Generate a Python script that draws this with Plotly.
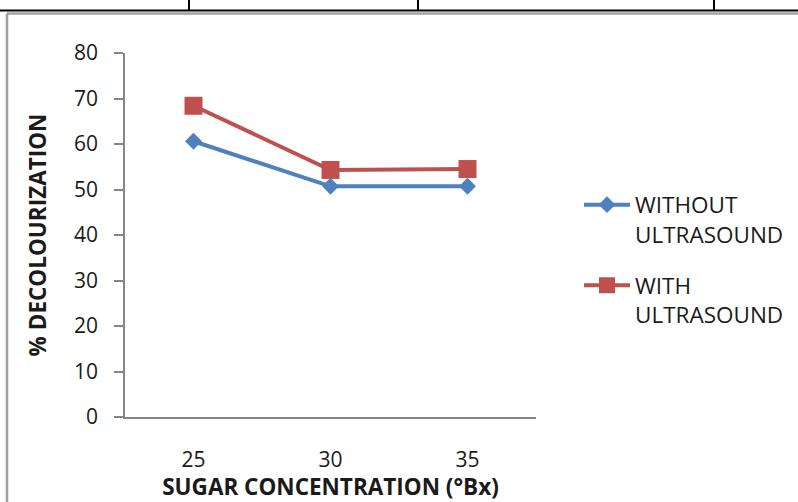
import plotly.graph_objects as go

# Sugar concentration (°Bx) and decolourization results
sugar_conc = ["25", "30", "35"]
without_us = [60.6, 50.7, 50.7]
with_us = [68.4, 54.3, 54.5]
y_ticks = [0, 10, 20, 30, 40, 50, 60, 70, 80]

W, H = 798, 502
L, R, T, B = 125, 262, 53, 85
pw, ph = W - L - R, H - T - B


def px(x):
    return (x - L) / pw


def py(y):
    return (H - B - y) / ph


fig = go.Figure()
fig.add_trace(go.Scatter(
    x=sugar_conc, y=without_us, mode="lines+markers",
    name="WITHOUT<br>ULTRASOUND", legendgroup="a",
    line=dict(color="#4F81BD", width=4),
    marker=dict(symbol="diamond", size=13, color="#4F81BD"),
))
fig.add_trace(go.Scatter(
    x=sugar_conc, y=with_us, mode="lines+markers",
    name="WITH<br>ULTRASOUND", legendgroup="b",
    line=dict(color="#C0504D", width=4),
    marker=dict(symbol="square", size=18, color="#C0504D"),
))

# Frame lines of the surrounding page
shapes = [
    dict(type="line", xref="paper", yref="paper", x0=px(0), x1=px(W),
         y0=py(10.5), y1=py(10.5), line=dict(color="black", width=2)),
    dict(type="line", xref="paper", yref="paper", x0=px(7), x1=px(W),
         y0=py(13.5), y1=py(13.5), line=dict(color="#a0a0a0", width=2.5)),
    dict(type="line", xref="paper", yref="paper", x0=px(7), x1=px(7),
         y0=py(13.5), y1=py(H + 5), line=dict(color="#a0a0a0", width=2.5)),
]
for xv in (189, 418, 714):
    shapes.append(dict(type="line", xref="paper", yref="paper", x0=px(xv), x1=px(xv),
                       y0=py(-2), y1=py(10.5), line=dict(color="black", width=2)))

fig.update_layout(
    width=W, height=H,
    margin=dict(l=L, r=R, t=T, b=B, autoexpand=False),
    paper_bgcolor="white", plot_bgcolor="white",
    font=dict(family="Open Sans", color="#1a1a1a", size=21),
    showlegend=True,
    legend=dict(
        x=px(579), y=py(183.5), xanchor="left", yanchor="top",
        font=dict(size=22.5, color="#1a1a1a"),
        valign="top", tracegroupgap=19, itemwidth=46,
        bgcolor="rgba(0,0,0,0)",
    ),
    shapes=shapes,
    xaxis=dict(
        type="category", range=[-0.5, 2.5], automargin=False,
        showgrid=False, zeroline=False,
        showline=True, linecolor="#868686", linewidth=1.5,
        ticks="", ticklabelstandoff=23,
        tickfont=dict(size=21),
        title=dict(text="SUGAR CONCENTRATION (°Bx)", standoff=13,
                   font=dict(size=22.5, family="Open Sans", weight="bold")),
    ),
    yaxis=dict(
        range=[0, 80], tickvals=y_ticks, automargin=False,
        showgrid=False, zeroline=False,
        showline=True, linecolor="#868686", linewidth=1.5,
        ticks="outside", ticklen=9, tickcolor="#868686", tickwidth=1.5,
        ticklabelstandoff=12,
        tickfont=dict(size=21),
        title=dict(text="% DECOLOURIZATION", standoff=21,
                   font=dict(size=22.5, family="Open Sans", weight="bold")),
    ),
)

fig.write_html("out.html")
